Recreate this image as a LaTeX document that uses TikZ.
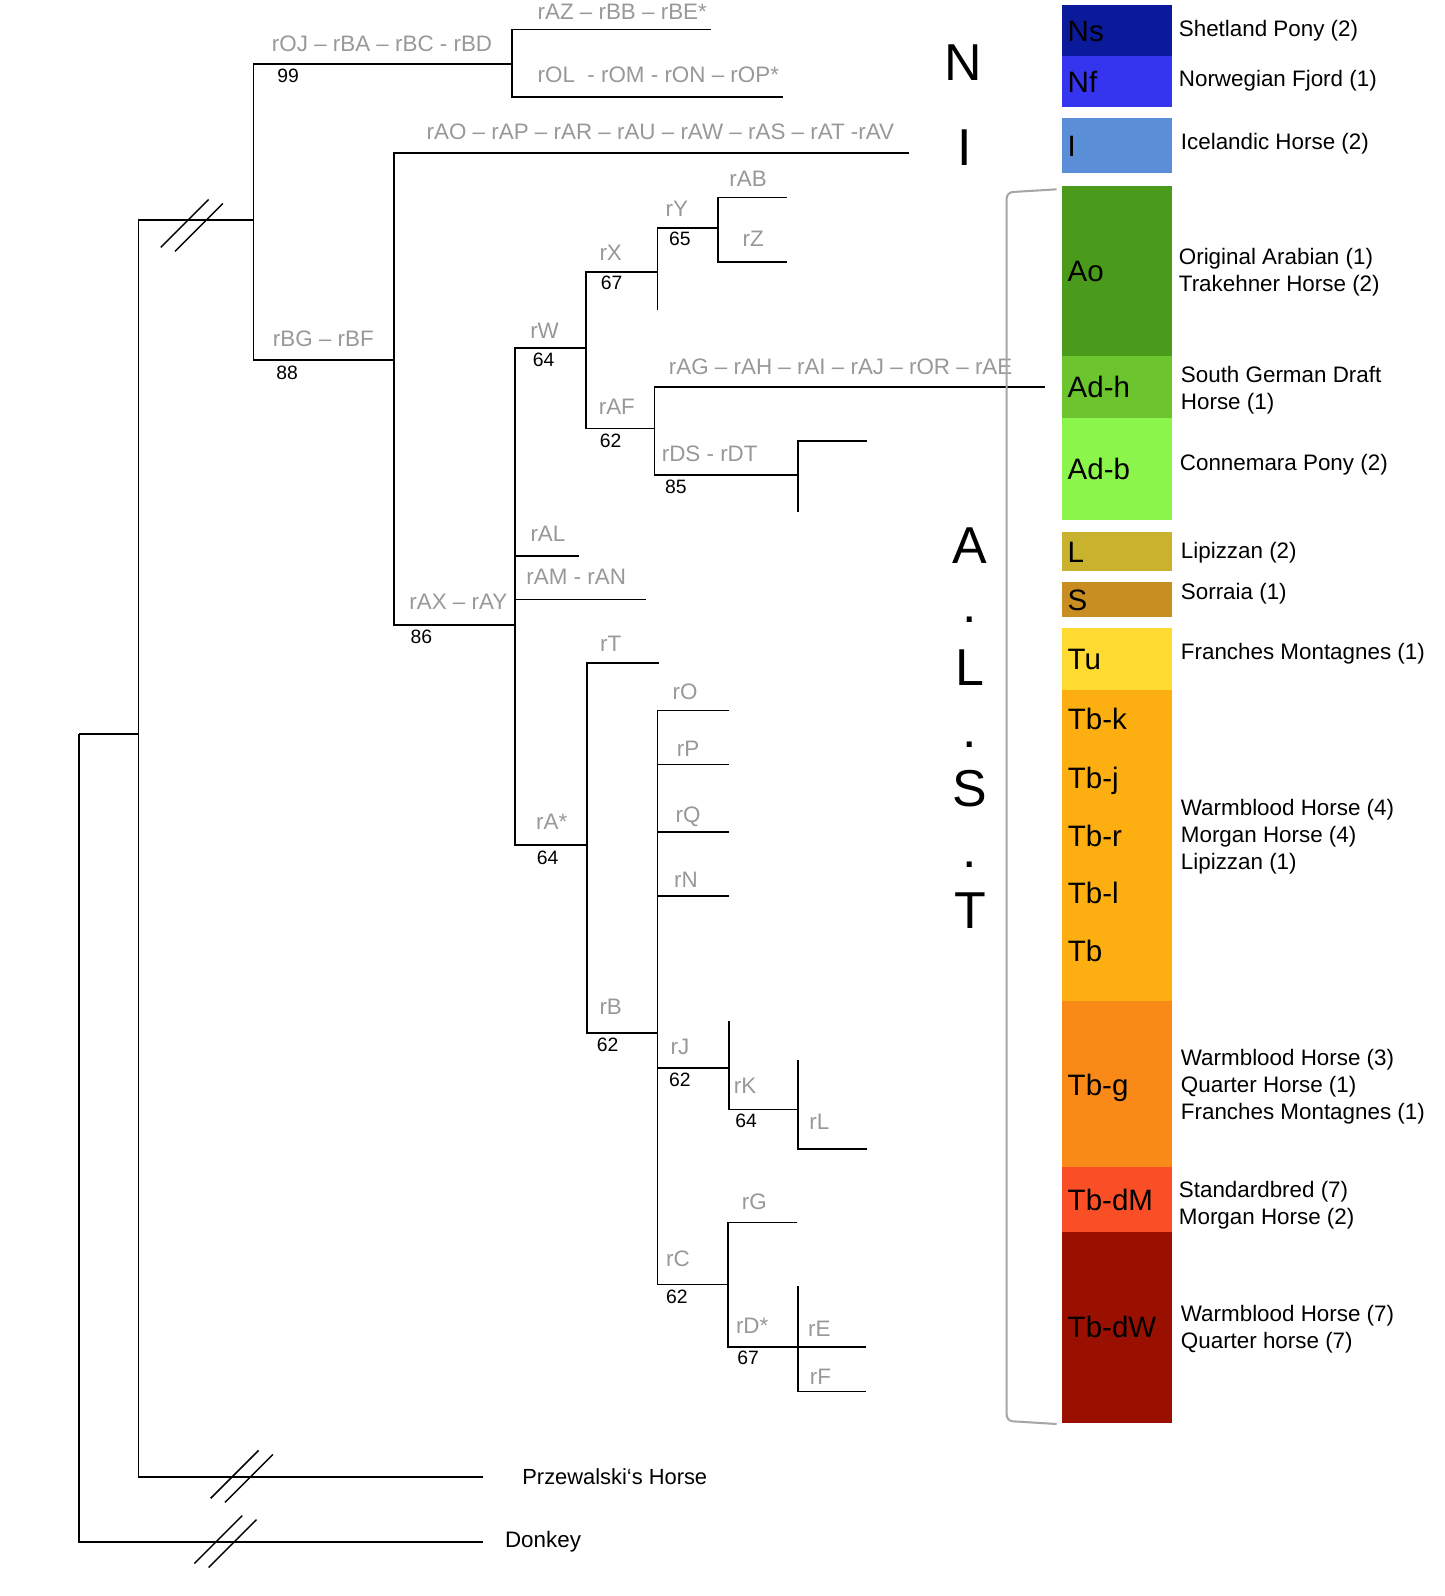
\documentclass[tikz,border=0pt]{standalone}
\usepackage{fontspec}
\setmainfont{Liberation Sans}
\usetikzlibrary{positioning}

\definecolor{labgray}{RGB}{152,152,152}
\definecolor{cNs}{RGB}{11,26,155}
\definecolor{cNf}{RGB}{53,53,240}
\definecolor{cI}{RGB}{90,143,216}
\definecolor{cAo}{RGB}{74,154,28}
\definecolor{cAdh}{RGB}{108,197,46}
\definecolor{cAdb}{RGB}{140,245,76}
\definecolor{cL}{RGB}{200,178,46}
\definecolor{cS}{RGB}{200,142,34}
\definecolor{cTu}{RGB}{255,218,48}
\definecolor{cTb}{RGB}{253,174,16}
\definecolor{cTbg}{RGB}{250,138,24}
\definecolor{cTbdM}{RGB}{250,78,38}
\definecolor{cTbdW}{RGB}{154,16,0}

% two slashes across a long branch
\newcommand{\brkmark}[1]{%
  \draw[brkline] (#1) ++(-30,23) -- ++(47,-47) (#1) ++(-16,27) -- ++(47,-47);}

\begin{document}
\begin{tikzpicture}[
  x=1pt, y=-1pt,
  tree/.style={line width=1.8pt},
  brkline/.style={line width=1.4pt},
  glab/.style={text=labgray, font=\fontsize{22}{26}\selectfont, inner sep=0pt, anchor=mid, yshift=-4pt},
  boot/.style={font=\fontsize{19}{22}\selectfont, inner sep=0pt, anchor=mid, yshift=-4pt},
  leaf/.style={font=\fontsize{22}{26}\selectfont, inner sep=0pt, anchor=mid west, yshift=-5pt},
  clade/.style={font=\fontsize{51}{51}\selectfont, inner sep=0pt, anchor=base},
  cbox/.style={
    rectangle, draw=none, outer sep=0pt, inner xsep=6pt, inner ysep=0pt,
    minimum width=108pt, text width=96pt, align=left,
    text height=21pt, text depth=0pt,
    font=\fontsize{29}{30}\selectfont
    },
  tblab/.style={font=\fontsize{29}{30}\selectfont, inner sep=0pt, anchor=mid west, yshift=-7pt},
  breed/.style={font=\fontsize{22}{26.5}\selectfont, inner sep=0pt, anchor=west, align=left, yshift=-2pt},
  brkt/.style={draw=gray!70, line width=2pt, rounded corners=6pt}
]
\useasboundingbox (0,0) rectangle (1419,1568);

% tree nodes and tips
\coordinate (root) at (78,721);
\coordinate (ingrp) at (136,721);
\coordinate (tDonkey) at (475,1515);
\coordinate (tPrz) at (475,1451);
\coordinate (nTop) at (249,216);
\coordinate (n99) at (503,63);
\coordinate (tAZ) at (699,29);
\coordinate (tOL) at (769,95);
\coordinate (n88) at (387,354);
\coordinate (tAO) at (893,150);
\coordinate (n86) at (506,614);
\coordinate (nW) at (576,342);
\coordinate (nX) at (646,267);
\coordinate (tX0) at (646,305);
\coordinate (nY) at (705,224);
\coordinate (tAB) at (773,194);
\coordinate (tZ) at (773,257);
\coordinate (nAF) at (643,421);
\coordinate (tAG) at (1027,380);
\coordinate (nDS) at (784,467);
\coordinate (tDS1) at (852,433);
\coordinate (tDS2) at (784,503);
\coordinate (tAL) at (569,546);
\coordinate (tAM) at (635,589);
\coordinate (nA) at (577,830);
\coordinate (tT) at (647,651);
\coordinate (nB) at (646,1015);
\coordinate (tO) at (716,698);
\coordinate (tP) at (716,751);
\coordinate (tQ) at (716,817);
\coordinate (tN) at (716,880);
\coordinate (nJ) at (716,1049);
\coordinate (tJ0) at (716,1003);
\coordinate (nK) at (784,1090);
\coordinate (tK0) at (784,1041);
\coordinate (tL) at (852,1129);
\coordinate (nC) at (715,1262);
\coordinate (tG) at (783,1201);
\coordinate (nD) at (784,1323);
\coordinate (tD0) at (784,1263);
\coordinate (tE) at (851,1323);
\coordinate (tF) at (851,1367);

% branches
\draw[tree] (root) |- (ingrp) (root) |- (tDonkey);
\draw[tree] (ingrp) |- (nTop) (ingrp) |- (tPrz);
\draw[tree] (nTop) |- (n99) (nTop) |- (n88);
\draw[tree] (n99) |- (tAZ) (n99) |- (tOL);
\draw[tree] (n88) |- (tAO) (n88) |- (n86);
\draw[tree] (n86) |- (nW) (n86) |- (tAL) (n86) |- (tAM) (n86) |- (nA);
\draw[tree] (nW) |- (nX) (nW) |- (nAF);
\draw[tree] (nX) |- (nY) (nX) |- (tX0);
\draw[tree] (nY) |- (tAB) (nY) |- (tZ);
\draw[tree] (nAF) |- (tAG) (nAF) |- (nDS);
\draw[tree] (nDS) |- (tDS1) (nDS) |- (tDS2);
\draw[tree] (nA) |- (tT) (nA) |- (nB);
\draw[tree] (nB) |- (tO) (nB) |- (tP) (nB) |- (tQ) (nB) |- (tN) (nB) |- (nJ) (nB) |- (nC);
\draw[tree] (nJ) |- (tJ0) (nJ) |- (nK);
\draw[tree] (nK) |- (tK0) (nK) |- (tL);
\draw[tree] (nC) |- (tG) (nC) |- (nD);
\draw[tree] (nD) |- (tD0) (nD) |- (tE) (nD) |- (tF);

% breaks on the long branches
\coordinate (brkTop) at (188,220);
\coordinate (brkPrz) at (237,1449);
\coordinate (brkDon) at (221,1513);
\brkmark{brkTop}
\brkmark{brkPrz}
\brkmark{brkDon}

% haplotype labels
\node[glab, anchor=mid west] (lOJ) at (267,44) {rOJ – rBA – rBC - rBD};
\node[glab, anchor=mid west] (lAZ) at (528,13) {rAZ – rBB – rBE*};
\node[glab, anchor=mid west] (lOL) at (528,74) {rOL\ \ - rOM - rON – rOP*};
\node[glab, anchor=mid west] (lAO) at (419,130) {rAO – rAP – rAR – rAU – rAW – rAS – rAT -rAV};
\node[glab, anchor=mid west] (lBG) at (268,334) {rBG – rBF};
\node[glab, anchor=mid west] (lAG) at (657,361) {rAG – rAH – rAI – rAJ – rOR – rAE};
\node[glab, anchor=mid west] (lDS) at (650,447) {rDS - rDT};
\node[glab, anchor=mid west] (lAL) at (521,525) {rAL};
\node[glab, anchor=mid west] (lAM) at (517,568) {rAM - rAN};
\node[glab, anchor=mid west] (lAX) at (402,592) {rAX – rAY};
\foreach \n/\x/\y/\t in {AB/735/177/rAB, Y/665/206/rY, Z/740/236/rZ, X/600/249/rX,
    W/535/326/rW, AF/606/401/rAF, T/600/633/rT, O/673/681/rO, P/676/737/rP,
    Q/676/801/rQ, N/674/865/rN, A/542/808/rA*, B/600/990/rB, J/668/1029/rJ,
    K/732/1068/rK, L/805/1103/rL, G/741/1182/rG, C/666/1238/rC, D/739/1303/rD*,
    E/805/1306/rE, F/806/1354/rF}
  \node[glab] (l\n) at (\x,\y) {\t};

% bootstrap values
\foreach \n/\x/\y/\t in {99/283/74/99, 88/282/366/88, Y/668/235/65, X/601/278/67,
    W/534/353/64, AF/600/433/62, DS/664/478/85, 86/414/626/86, A/538/843/64,
    B/597/1026/62, J/668/1061/62, K/733/1101/64, C/665/1274/62, D/735/1334/67}
  \node[boot] (b\n) at (\x,\y) {\t};

% outgroups
\node[leaf, font=\fontsize{21.5}{26}\selectfont] (lPrz) at (513,1451) {Przewalski‘s Horse};
\node[leaf] (lDonkey) at (496,1513) {Donkey};

% clades
\node[clade] (cN) at (946,79) {N};
\node[clade] (cI) at (948,163) {I};
\node[clade] (cA) at (953,554) {A};
\node[clade] (cd1) at (953,612) {.};
\node[clade] (cL) at (953,673) {L};
\node[clade] (cd2) at (953,734) {.};
\node[clade] (cS) at (953,792) {S};
\node[clade] (cd3) at (953,852) {.};
\node[clade] (cT) at (953,912) {T};
\draw[brkt] (1038,186) -- (989,189) -- (989,1396) -- (1038,1399);

% haplogroup boxes
\node[cbox, fill=cNs, minimum height=50pt] (bNs) at (1097,30) {Ns};
\node[cbox, fill=cNf, minimum height=50pt] (bNf) at (1097,80) {Nf};
\node[cbox, fill=cI, minimum height=54pt] (bI) at (1097,143) {I};
\node[cbox, fill=cAo, minimum height=167pt] (bAo) at (1097,266.5) {Ao};
\node[cbox, fill=cAdh, minimum height=62pt] (bAdh) at (1097,380.5) {Ad-h};
\node[cbox, fill=cAdb, minimum height=100pt] (bAdb) at (1097,461) {Ad-b};
\node[cbox, fill=cL, minimum height=38pt] (bL) at (1097,542) {L};
\node[cbox, fill=cS, minimum height=34pt] (bS) at (1097,589) {S};
\node[cbox, fill=cTu, minimum height=61pt] (bTu) at (1097,647.5) {Tu};
\node[cbox, fill=cTb, minimum height=306pt] (bTb) at (1097,831) {};
\node[cbox, fill=cTbg, minimum height=164pt] (bTbg) at (1097,1065.5) {Tb-g};
\node[cbox, fill=cTbdM, minimum height=63pt] (bTbdM) at (1097,1178.5) {Tb-dM};
\node[cbox, fill=cTbdW, minimum height=188pt] (bTbdW) at (1097,1304) {Tb-dW};
\foreach \n/\y/\t in {k/707/Tb-k, j/765/Tb-j, r/822/Tb-r, l/878/Tb-l, b/935/Tb}
  \node[tblab] (lTb\n) at (1049,\y) {\t};

% breeds
\node[breed] (sNs) at (1158,28) {Shetland Pony (2)};
\node[breed] (sNf) at (1158,77) {Norwegian Fjord (1)};
\node[breed] (sI) at (1160,139) {Icelandic Horse (2)};
\node[breed] (sAo) at (1158,265) {Original Arabian (1)\\Trakehner Horse (2)};
\node[breed] (sAdh) at (1160,381) {South German Draft\\Horse (1)};
\node[breed] (sAdb) at (1159,455) {Connemara Pony (2)};
\node[breed] (sL) at (1160,541) {Lipizzan (2)};
\node[breed] (sS) at (1160,581) {Sorraia (1)};
\node[breed] (sTu) at (1160,640) {Franches Montagnes (1)};
\node[breed] (sTb) at (1160,820) {Warmblood Horse (4)\\Morgan Horse (4)\\Lipizzan (1)};
\node[breed] (sTbg) at (1160,1066) {Warmblood Horse (3)\\Quarter Horse (1)\\Franches Montagnes (1)};
\node[breed] (sTbdM) at (1158,1182) {Standardbred (7)\\Morgan Horse (2)};
\node[breed] (sTbdW) at (1160,1304) {Warmblood Horse (7)\\Quarter horse (7)};

\end{tikzpicture}
\end{document}
